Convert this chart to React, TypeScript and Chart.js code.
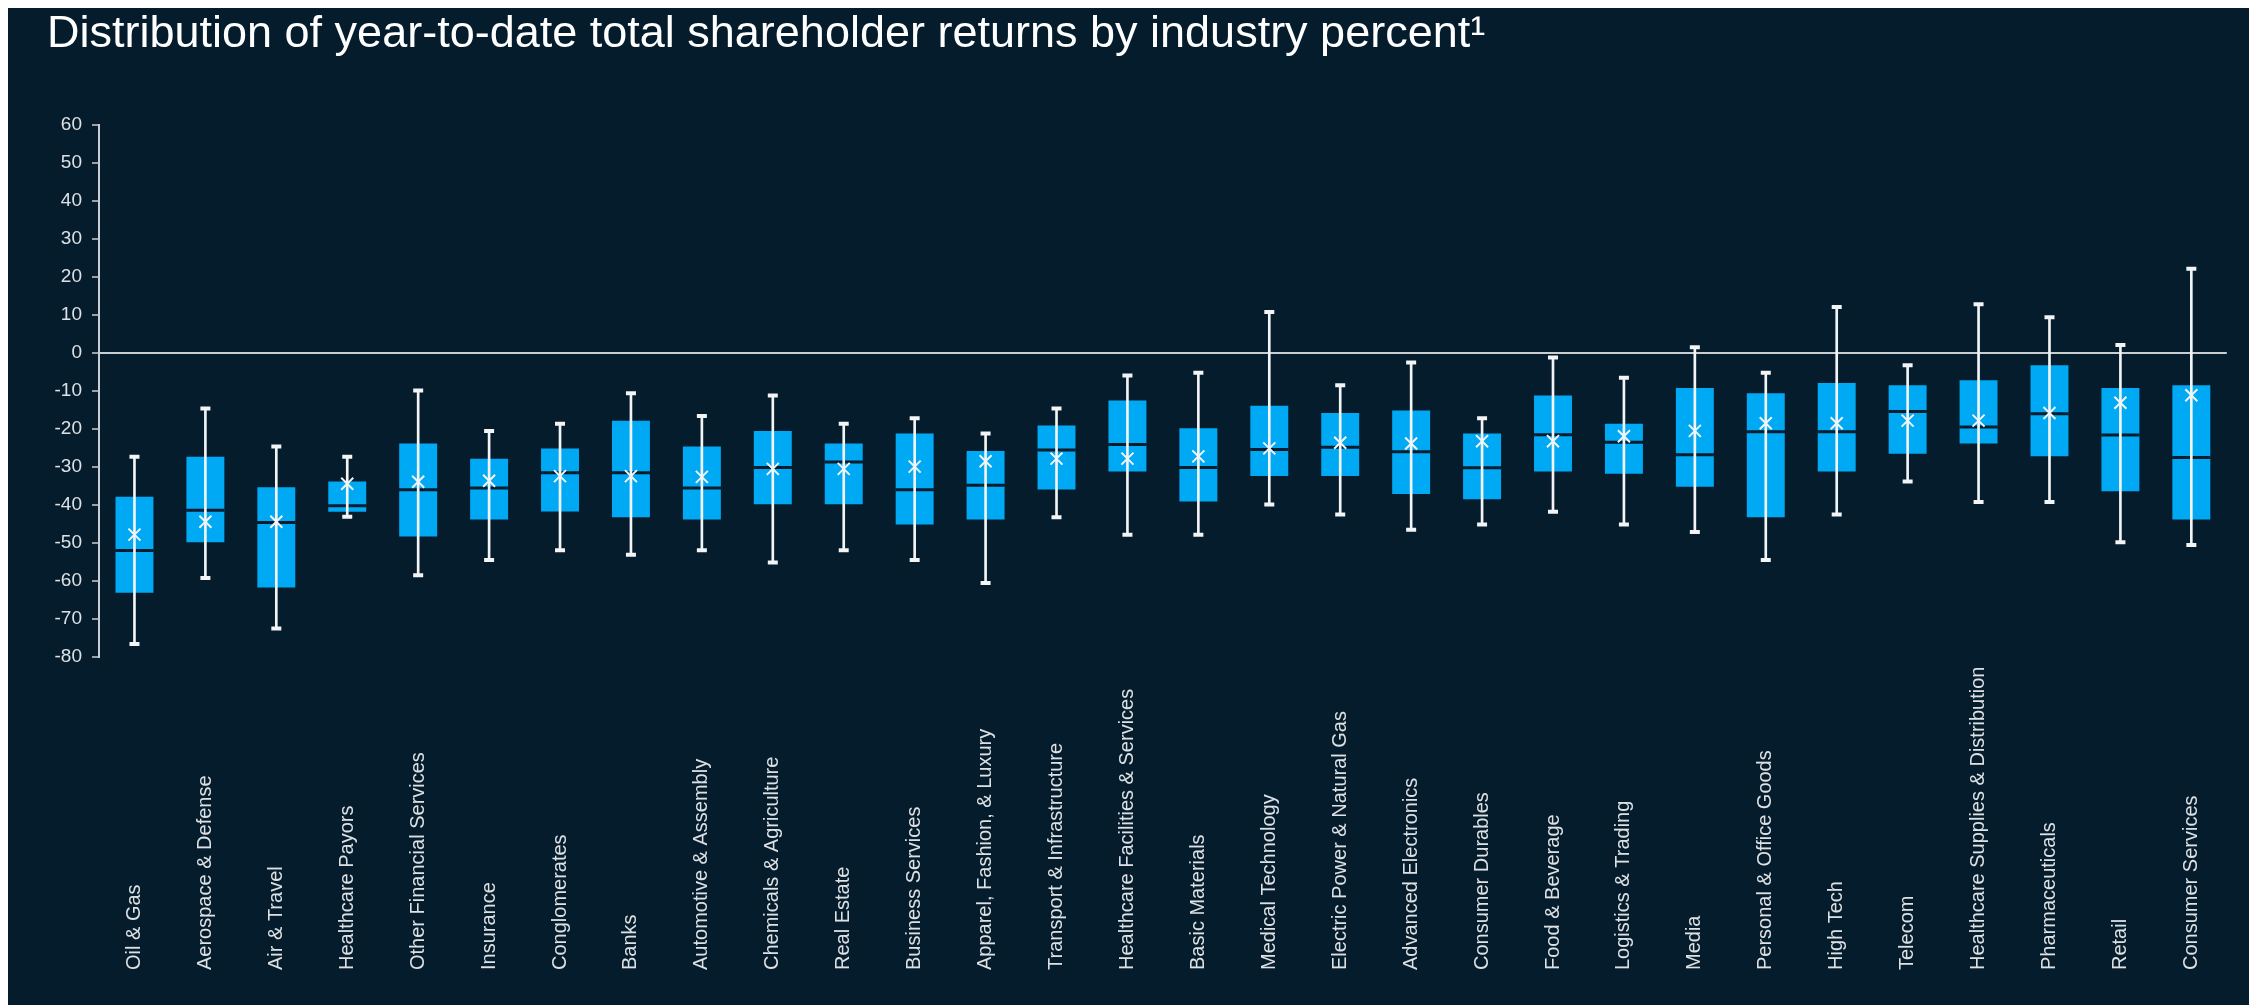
import { useEffect, useRef } from "react";
import { Chart, registerables } from "chart.js";

Chart.register(...registerables);

const TITLE = "Distribution of year-to-date total shareholder returns by industry percent\u00B9";

const categories = [
  "Oil & Gas",
  "Aerospace & Defense",
  "Air & Travel",
  "Healthcare Payors",
  "Other Financial Services",
  "Insurance",
  "Conglomerates",
  "Banks",
  "Automotive & Assembly",
  "Chemicals & Agriculture",
  "Real Estate",
  "Business Services",
  "Apparel, Fashion, & Luxury",
  "Transport & Infrastructure",
  "Healthcare Facilities & Services",
  "Basic Materials",
  "Medical Technology",
  "Electric Power & Natural Gas",
  "Advanced Electronics",
  "Consumer Durables",
  "Food & Beverage",
  "Logistics & Trading",
  "Media",
  "Personal & Office Goods",
  "High Tech",
  "Telecom",
  "Healthcare Supplies & Distribution",
  "Pharmaceuticals",
  "Retail",
  "Consumer Services",
];

const whiskerLow = [
  -76.6, -59.2, -72.5, -43.1, -58.5, -54.5, -51.9, -53.1, -51.9, -55.1,
  -51.9, -54.5, -60.5, -43.2, -47.8, -47.8, -39.9, -42.5, -46.5, -45.1,
  -41.8, -45.1, -47.1, -54.5, -42.5, -33.8, -39.2, -39.2, -49.8, -50.5,
];

const boxLow = [
  -63.1, -49.8, -61.7, -41.8, -48.3, -43.8, -41.7, -43.2, -43.8, -39.8,
  -39.8, -45.1, -43.8, -35.9, -31.2, -39.1, -32.4, -32.4, -37.1, -38.5,
  -31.2, -31.8, -35.2, -43.2, -31.2, -26.5, -23.8, -27.2, -36.4, -43.8,
];

const medians = [
  -52.0, -41.4, -44.6, -40.2, -36.0, -35.5, -31.5, -31.5, -35.5, -30.1,
  -28.7, -36.0, -34.8, -25.5, -24.1, -30.1, -25.4, -24.8, -26.0, -30.2,
  -21.5, -23.5, -26.8, -20.7, -20.7, -15.4, -19.5, -16.0, -21.6, -27.5,
];

const boxHigh = [
  -37.8, -27.3, -35.3, -33.8, -23.8, -27.8, -25.1, -17.8, -24.6, -20.5,
  -23.8, -21.2, -25.8, -19.1, -12.5, -19.8, -13.9, -15.8, -15.1, -21.2,
  -11.2, -18.6, -9.2, -10.6, -7.9, -8.5, -7.2, -3.2, -9.2, -8.5,
];

const whiskerHigh = [
  -27.3, -14.6, -24.6, -27.3, -9.9, -20.5, -18.6, -10.6, -16.6, -11.2,
  -18.6, -17.2, -21.2, -14.6, -5.9, -5.2, 10.8, -8.5, -2.5, -17.2,
  -1.2, -6.5, 1.5, -5.2, 12.1, -3.2, 12.8, 9.4, 2.1, 22.2,
];

const means = [
  -47.8, -44.4, -44.4, -34.4, -33.9, -33.6, -32.4, -32.4, -32.6, -30.5,
  -30.5, -29.9, -28.5, -27.8, -27.8, -27.2, -25.1, -23.6, -23.8, -23.2,
  -23.2, -21.9, -20.5, -18.5, -18.5, -17.8, -17.8, -15.8, -13.1, -11.1,
];

const Y_MIN = -80;
const Y_MAX = 60;
const Y_STEP = 10;

const BG = "#051C2C";
const BOX = "#00A9F4";
const WHITE = "#f2f4f5";
const AXIS = "#c9ced2";
const TEXT = "#dde1e4";
const FONT = '"Liberation Sans", Arial, Helvetica, sans-serif';

const W = 2241;
const H = 997;

export default function App() {
  const ref = useRef<HTMLCanvasElement | null>(null);

  useEffect(() => {
    document.documentElement.style.overflow = "hidden";
    document.documentElement.style.background = BG;
    document.body.style.overflow = "hidden";
    const canvas = ref.current;
    if (!canvas) return;

    const textPlugin = {
      id: "textPlugin",
      afterDraw(chart: any) {
        const ctx = chart.ctx;
        ctx.save();
        ctx.fillStyle = "#ffffff";
        ctx.font = `45px ${FONT}`;
        ctx.textAlign = "left";
        ctx.textBaseline = "alphabetic";
        ctx.fillText(TITLE, 39, 39);

        const xs = chart.scales.x;
        ctx.fillStyle = TEXT;
        ctx.font = `20px ${FONT}`;
        ctx.textBaseline = "middle";
        categories.forEach((c, i) => {
          const x = xs.getPixelForValue(i);
          ctx.save();
          ctx.translate(x, 962);
          ctx.rotate(-Math.PI / 2);
          ctx.fillText(c, 0, 0);
          ctx.restore();
        });
        ctx.restore();
      },
    };

    const chart = new Chart(canvas, {
      type: "bar",
      data: {
        labels: categories,
        datasets: [
          {
            type: "bar",
            label: "box",
            data: categories.map((_, i) => [boxLow[i], boxHigh[i]]),
            backgroundColor: BOX,
            borderWidth: 0,
            barPercentage: 0.535,
            categoryPercentage: 1,
            grouped: false,
            order: 5,
          } as any,
          {
            type: "line",
            label: "median",
            data: medians,
            showLine: false,
            pointStyle: "line",
            pointRadius: 19.2,
            pointHoverRadius: 19.2,
            pointBorderWidth: 3,
            pointBorderColor: BG,
            order: 4,
          } as any,
          {
            type: "bar",
            label: "whisker",
            data: categories.map((_, i) => [whiskerLow[i], whiskerHigh[i]]),
            backgroundColor: WHITE,
            borderWidth: 0,
            barThickness: 2,
            grouped: false,
            order: 3,
          } as any,
          {
            type: "line",
            label: "capLow",
            data: whiskerLow,
            showLine: false,
            pointStyle: "line",
            pointRadius: 5,
            pointHoverRadius: 5,
            pointBorderWidth: 4,
            pointBorderColor: WHITE,
            order: 2,
          } as any,
          {
            type: "line",
            label: "capHigh",
            data: whiskerHigh,
            showLine: false,
            pointStyle: "line",
            pointRadius: 5,
            pointHoverRadius: 5,
            pointBorderWidth: 4,
            pointBorderColor: WHITE,
            order: 2,
          } as any,
          {
            type: "line",
            label: "mean",
            data: means,
            showLine: false,
            pointStyle: "crossRot",
            pointRadius: 8.5,
            pointHoverRadius: 8.5,
            pointBorderWidth: 2,
            pointBorderColor: WHITE,
            order: 1,
          } as any,
        ],
      },
      options: {
        responsive: false,
        animation: false,
        devicePixelRatio: 1,
        layout: { padding: { left: 31, right: 1, top: 117, bottom: 348 } },
        plugins: {
          legend: { display: false },
          tooltip: { enabled: false },
          title: { display: false },
        },
        scales: {
          x: {
            type: "category",
            display: false,
            offset: true,
            grid: { display: false },
          },
          y: {
            min: Y_MIN,
            max: Y_MAX,
            afterFit: (s: any) => {
              s.width = 60;
            },
            ticks: {
              stepSize: Y_STEP,
              color: TEXT,
              padding: 10,
              font: { size: 19, family: FONT },
            },
            grid: {
              color: (c: any) =>
                c.tick && c.tick.value === 0 ? AXIS : "rgba(0,0,0,0)",
              lineWidth: 2,
              drawTicks: true,
              tickLength: 7,
              tickColor: AXIS,
              tickWidth: 1.5,
            },
            border: { display: true, color: AXIS, width: 2 },
          },
        },
      },
      plugins: [textPlugin],
    } as any);

    return () => chart.destroy();
  }, []);

  return (
    <>
      <div
        style={{
          position: "fixed",
          left: 8,
          top: 8,
          right: 0,
          bottom: 0,
          background: BG,
          overflow: "hidden",
        }}
      >
        <canvas ref={ref} width={W} height={H} style={{ display: "block" }} />
      </div>
      <div
        style={{
          position: "fixed",
          left: 0,
          top: 0,
          right: 0,
          height: 8,
          background: "#ffffff",
        }}
      />
      <div
        style={{
          position: "fixed",
          left: 0,
          top: 0,
          bottom: 0,
          width: 8,
          background: "#ffffff",
        }}
      />
    </>
  );
}
